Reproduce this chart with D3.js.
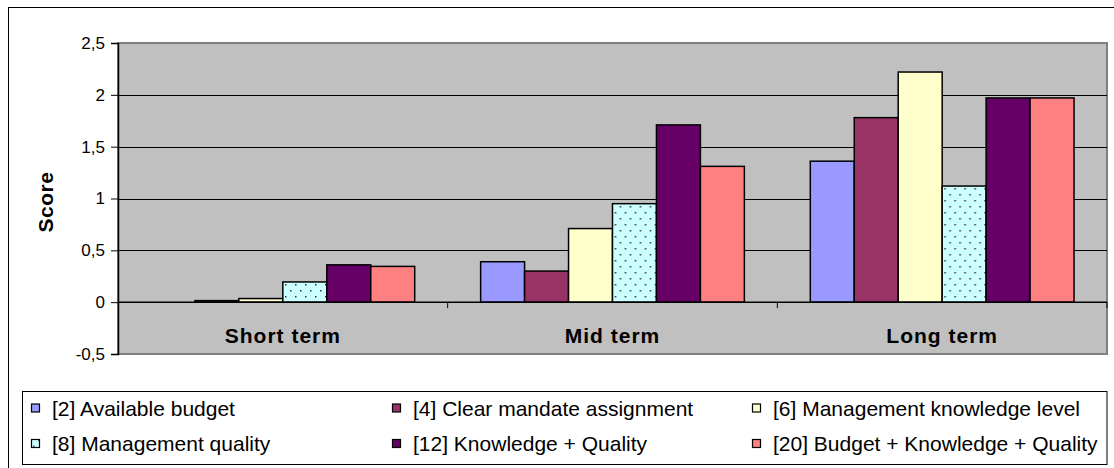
<!DOCTYPE html>
<html><head><meta charset="utf-8">
<script src="https://cdn.jsdelivr.net/npm/d3@7"></script>
<style>
html,body{margin:0;padding:0;background:#fff;}
svg text{font-family:Arial,"Liberation Sans",sans-serif;}
</style></head>
<body><svg id="c" width="1114" height="468"></svg>
<script>
const categories = ["Short term", "Mid term", "Long term"];
const seriesNames = ["[2] Available budget", "[4] Clear mandate assignment", "[6] Management knowledge level",
  "[8] Management quality", "[12] Knowledge + Quality", "[20] Budget + Knowledge + Quality"];
const availableBudget = [0, 0.39, 1.36];
const clearMandate = [0.015, 0.30, 1.78];
const knowledgeLevel = [0.035, 0.71, 2.22];
const managementQuality = [0.195, 0.95, 1.12];
const knowledgeQuality = [0.36, 1.71, 1.97];
const budgetKnowledgeQuality = [0.345, 1.31, 1.97];
const yTicks = [-0.5, 0, 0.5, 1, 1.5, 2, 2.5];
const yTickLabels = ["-0,5", "0", "0,5", "1", "1,5", "2", "2,5"];
const colors = ["#9999FF", "#993366", "#FFFFCC", "#CCFFFF", "#660066", "#FF8080"];
const seriesValues = [availableBudget, clearMandate, knowledgeLevel, managementQuality, knowledgeQuality, budgetKnowledgeQuality];

const svg = d3.select("#c");
const L = 118, R = 1107, T = 43, B = 354;

// chart border
svg.append("rect").attr("x", 8.5).attr("y", 7.5).attr("width", 1200).attr("height", 600)
  .attr("fill", "#fff").attr("stroke", "#000").attr("stroke-width", 1);

const defs = svg.append("defs");
const pat = defs.append("pattern").attr("id", "dots").attr("patternUnits", "userSpaceOnUse")
  .attr("width", 10).attr("height", 12);
pat.append("rect").attr("width", 10).attr("height", 12).attr("fill", colors[3]);
pat.append("rect").attr("x", 2).attr("y", 2).attr("width", 1.5).attr("height", 1.5).attr("fill", "#333");
pat.append("rect").attr("x", 7).attr("y", 8).attr("width", 1.5).attr("height", 1.5).attr("fill", "#333");

const fills = colors.map((c, i) => i === 3 ? "url(#dots)" : c);

const y = d3.scaleLinear().domain([-0.5, 2.5]).range([B, T]);
const x0 = d3.scaleBand().domain(categories).range([L, R]).paddingInner(0).paddingOuter(0);
const x1 = d3.scaleBand().domain(d3.range(seriesNames.length)).range([0, x0.bandwidth()]).paddingInner(0).paddingOuter(0.75);

// plot area
svg.append("rect").attr("x", L).attr("y", T).attr("width", R - L).attr("height", B - T)
  .attr("fill", "#C0C0C0").attr("stroke", "#808080").attr("stroke-width", 2);

// gridlines
svg.append("g").selectAll("line").data(yTicks.filter(v => v > -0.5 && v < 2.5)).join("line")
  .attr("x1", L).attr("x2", R).attr("y1", d => Math.round(y(d)) + 0.5).attr("y2", d => Math.round(y(d)) + 0.5)
  .attr("stroke", "#000").attr("stroke-width", 1);

// bars
const groups = svg.append("g").selectAll("g").data(categories).join("g")
  .attr("transform", d => `translate(${x0(d)},0)`);
groups.selectAll("rect").data((d, ci) => seriesValues.map((s, si) => ({ si, v: s[ci] }))).join("rect")
  .attr("x", d => x1(d.si)).attr("width", x1.bandwidth())
  .attr("y", d => y(Math.max(0, d.v))).attr("height", d => Math.abs(y(d.v) - y(0)))
  .attr("fill", d => fills[d.si]).attr("stroke", "#000").attr("stroke-width", 1.5);

// zero axis line
svg.append("line").attr("x1", L).attr("x2", R).attr("y1", y(0)).attr("y2", y(0)).attr("stroke", "#000").attr("stroke-width", 1.5);
// category ticks
svg.append("g").selectAll("line").data(categories.slice(1).concat(["end"])).join("line")
  .attr("x1", (d, i) => i < categories.length - 1 ? x0(d) : R).attr("x2", (d, i) => i < categories.length - 1 ? x0(d) : R)
  .attr("y1", y(0)).attr("y2", y(0) + 6).attr("stroke", "#000");

// y axis
const yAxis = d3.axisLeft(y).tickValues(yTicks).tickFormat((d, i) => yTickLabels[i]).tickSize(7).tickPadding(6);
const ya = svg.append("g").attr("transform", `translate(${L},0)`).call(yAxis);
ya.select(".domain").attr("stroke", "#000").attr("stroke-width", 1.5);
ya.selectAll(".tick line").attr("stroke", "#000");
ya.selectAll(".tick text").attr("fill", "#000").style("font-size", "17px");

// category labels
svg.append("g").selectAll("text").data(categories).join("text")
  .attr("x", d => x0(d) + x0.bandwidth() / 2).attr("y", 343)
  .attr("text-anchor", "middle").style("font-size", "21px").style("font-weight", "bold")
  .style("letter-spacing", "1px").text(d => d);

// y title
svg.append("text").attr("transform", "translate(53,202) rotate(-90)").attr("text-anchor", "middle")
  .style("font-size", "21px").style("font-weight", "bold").style("letter-spacing", "0.5px").text("Score");

// legend
svg.append("rect").attr("x", 22.5).attr("y", 391.5).attr("width", 1107 - 22.5).attr("height", 73)
  .attr("fill", "#fff").attr("stroke", "#000").attr("stroke-width", 1);
const colX = [31, 392, 752];
const rowY = [408, 443.5];
const lg = svg.append("g").selectAll("g").data(seriesNames).join("g")
  .attr("transform", (d, i) => `translate(${colX[i % 3]},${rowY[Math.floor(i / 3)]})`);
lg.append("rect").attr("x", 0.5).attr("y", -4).attr("width", 8).attr("height", 8)
  .attr("fill", (d, i) => fills[i]).attr("stroke", "#000").attr("stroke-width", 1.2);
lg.append("text").attr("x", 21).attr("y", 7.5).style("font-size", "21px").text(d => d);
</script></body></html>
